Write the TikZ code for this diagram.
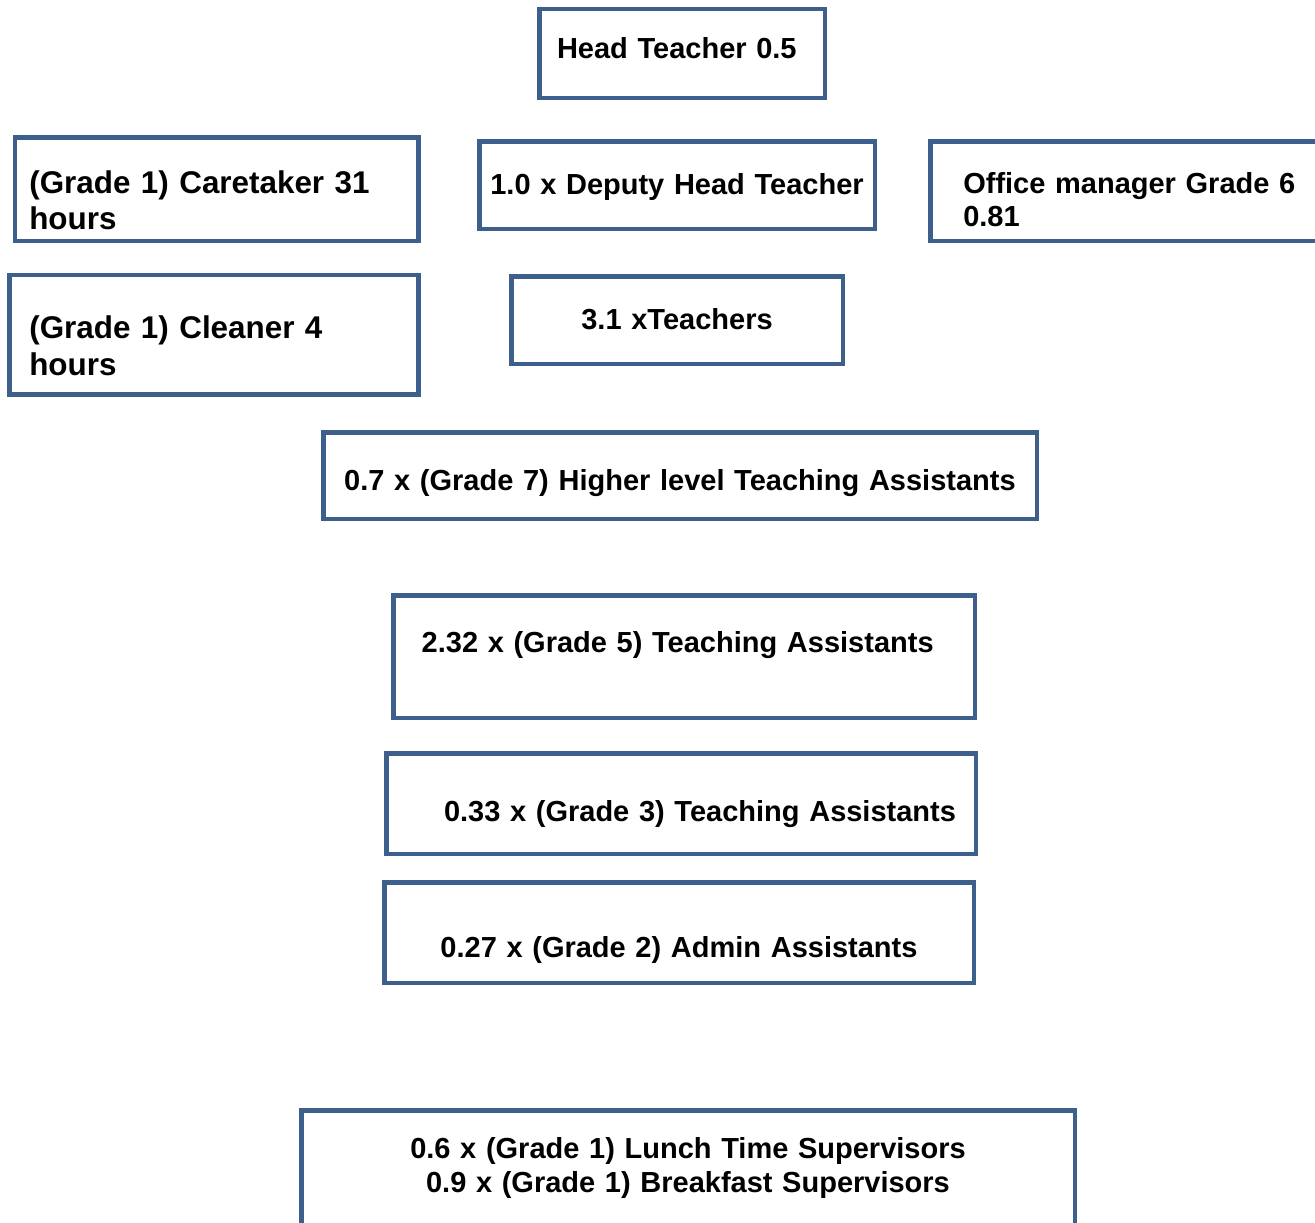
\documentclass[tikz,border=0pt]{standalone}
\usepackage{fontspec}
\setmainfont{Liberation Sans}
\definecolor{boxblue}{RGB}{60,95,140}

\begin{document}
\begin{tikzpicture}[x=1pt, y=-1pt,
    staff/.style ={rectangle, draw=boxblue, line width=4.5pt, fill=white,
      inner sep=0pt, align=left, text depth=0pt,
      font=\fontsize{29}{31}\selectfont\bfseries},
    bigstaff/.style ={staff, font=\fontsize{31.4}{36}\selectfont\bfseries}]
   \useasboundingbox (0,0) rectangle (1315,1223);
   \clip (0,0) rectangle (1315,1223);
   % top row
   \node[staff, minimum width=285.5pt, minimum height=88.5pt, text width=250pt,
     text height=9.6pt] (head) at (682,53.5) {Head Teacher 0.5};
   \node[bigstaff, minimum width=403.5pt, minimum height=103.8pt, text width=374.8pt,
     text height=7.6pt] (caretaker) at (216.7,189.2) {(Grade 1) Caretaker 31\\hours};
   \node[staff, minimum width=395.5pt, minimum height=87.5pt, text width=380pt,
     align=center, text height=18pt] (deputy) at (677,185) {1.0 x Deputy Head Teacher};
   \node[staff, minimum width=407pt, minimum height=99.2pt, text width=341.4pt,
     text height=3.6pt] (office) at (1134,191.2) {Office manager Grade 6\\[2pt]0.81};
   \node[bigstaff, minimum width=408.9pt, minimum height=119.5pt, text width=369.4pt,
     text height=6.6pt] (cleaner) at (214,334.7) {(Grade 1) Cleaner 4\\[1pt]hours};
   \node[staff, minimum width=331.5pt, minimum height=87.5pt, text width=300pt,
     align=center, text height=18pt] (teachers) at (677,320) {3.1 xTeachers};
   % assistants
   \node[staff, minimum width=713.5pt, minimum height=86.5pt, text width=690pt,
     align=center, text height=29pt] (hlta) at (680,475.5) {0.7 x (Grade 7) Higher level Teaching Assistants};
   \node[staff, minimum width=581.5pt, minimum height=122.5pt, text width=524.6pt,
     text height=0pt, text depth=9pt] (ta5) at (684,656.5) {2.32 x (Grade 5) Teaching Assistants};
   \node[staff, minimum width=589.5pt, minimum height=100.5pt, text width=550pt,
     align=right, text height=35pt] (ta3) at (681,803.5) {0.33 x (Grade 3) Teaching Assistants};
   \node[staff, minimum width=589.5pt, minimum height=100.5pt, text width=560pt,
     align=center, text height=49pt] (admin) at (679,932.5) {0.27 x (Grade 2) Admin Assistants};
   % supervisors
   \node[staff, minimum width=773.5pt, minimum height=137.5pt, text width=700pt,
     align=center, text height=0pt, text depth=42pt] (lunch) at (688,1179)
     {0.6 x (Grade 1) Lunch Time Supervisors\\[3pt]0.9 x (Grade 1) Breakfast Supervisors};
\end{tikzpicture}
\end{document}
